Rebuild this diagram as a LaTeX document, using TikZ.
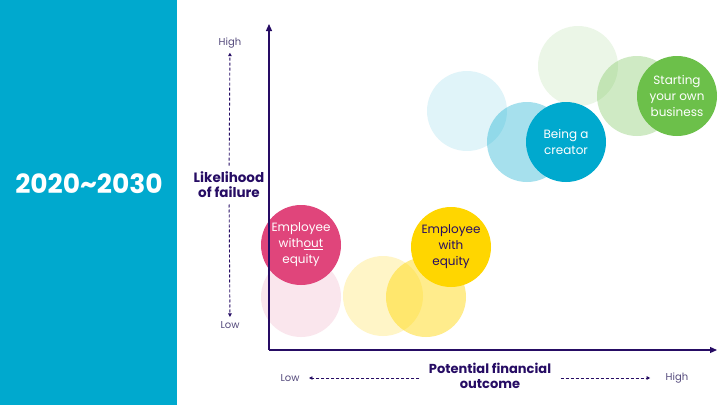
\documentclass[tikz,border=0pt]{standalone}
\usepackage{fontspec}
\setmainfont{Poppins}
\usetikzlibrary{arrows.meta}

\definecolor{panelblue}{RGB}{0,169,206}
\definecolor{axispurple}{RGB}{38,12,100}
\definecolor{ticktext}{RGB}{85,75,125}
\definecolor{employeepink}{RGB}{224,69,123}
\definecolor{equityyellow}{RGB}{255,214,0}
\definecolor{businessgreen}{RGB}{108,192,74}

\begin{document}
\begin{tikzpicture}[
    x=1pt, y=-1pt,
    every node/.style={font=\fontsize{12}{16}\selectfont, align=center},
    bubble/.style={circle, minimum size=80pt, inner sep=0pt},
    ghost/.style={circle, minimum size=80pt, inner sep=0pt, fill opacity=#1},
    axis/.style={axispurple, line width=1.2pt, -{Triangle[length=7pt,width=6pt]}},
    hint/.style={axispurple, line width=0.9pt, dash pattern=on 3pt off 2pt, -{Triangle[length=3.5pt,width=3.5pt]}},
    tick/.style={text=ticktext, font=\fontsize{10}{12}\selectfont},
    axistitle/.style={text=axispurple, font=\bfseries\fontsize{13.5}{15}\selectfont}
]

    % Background and side panel
    \fill[white] (0,0) rectangle (720,405);
    \fill[panelblue] (0,0) rectangle (177,405);
    \node[text=white, font=\bfseries\fontsize{26.5}{28}\selectfont] (years) at (89,184) {2020\textasciitilde2030};

    % Define Coordinates
    \coordinate (O) at (269,350);    % Origin
    \coordinate (YT) at (269,24);    % Top of y axis
    \coordinate (XR) at (717,350);   % Right end of x axis

    % Faint trail circles
    \node[ghost=0.13, fill=employeepink] (pinkA) at (301,297) {};
    \node[ghost=0.22, fill=equityyellow] (yellowA) at (383,296) {};
    \node[ghost=0.45, fill=equityyellow] (yellowB) at (426,297) {};
    \node[ghost=0.12, fill=panelblue] (blueA) at (467,111) {};
    \node[ghost=0.35, fill=panelblue] (blueB) at (527,142) {};
    \node[ghost=0.13, fill=businessgreen] (greenA) at (578,66) {};
    \node[ghost=0.32, fill=businessgreen] (greenB) at (637,96) {};

    % Solid circles with labels
    \node[bubble, fill=employeepink, text=white] (employee) at (301,245) {Employee\\with\underline{out}\\equity};
    \node[bubble, fill=equityyellow, text=axispurple] (equity) at (451,247) {Employee\\with\\equity};
    \node[bubble, fill=panelblue, text=white] (creator) at (566,142) {Being a\\creator};
    \node[bubble, fill=businessgreen, text=white] (business) at (677,96) {Starting\\your own\\business};

    % Draw Axes
    \draw[axis] (O) -- (YT);
    \draw[axis] (O) -- (XR);

    % Vertical hint
    \node[tick] (yhigh) at (230,43) {High};
    \node[tick] (ylow) at (230,325) {Low};
    \node[axistitle] (ytitle) at (229,185) {Likelihood\\of failure};
    \draw[hint, shorten <=3pt, shorten >=1pt] (ytitle) -- (yhigh);
    \draw[hint, shorten <=3pt, shorten >=1pt] (ytitle) -- (ylow);

    % Horizontal hint
    \node[tick] (xlow) at (290,378) {Low};
    \node[tick] (xhigh) at (677,378) {High};
    \node[axistitle, font=\bfseries\fontsize{13}{15}\selectfont] (xtitle) at (490,376) {Potential financial\\outcome};
    \draw[hint, shorten <=6pt, shorten >=6pt] (xtitle.west |- xlow) -- (xlow);
    \draw[hint, shorten <=6pt, shorten >=12pt] (xtitle.east |- xhigh) -- (xhigh);

\end{tikzpicture}
\end{document}
